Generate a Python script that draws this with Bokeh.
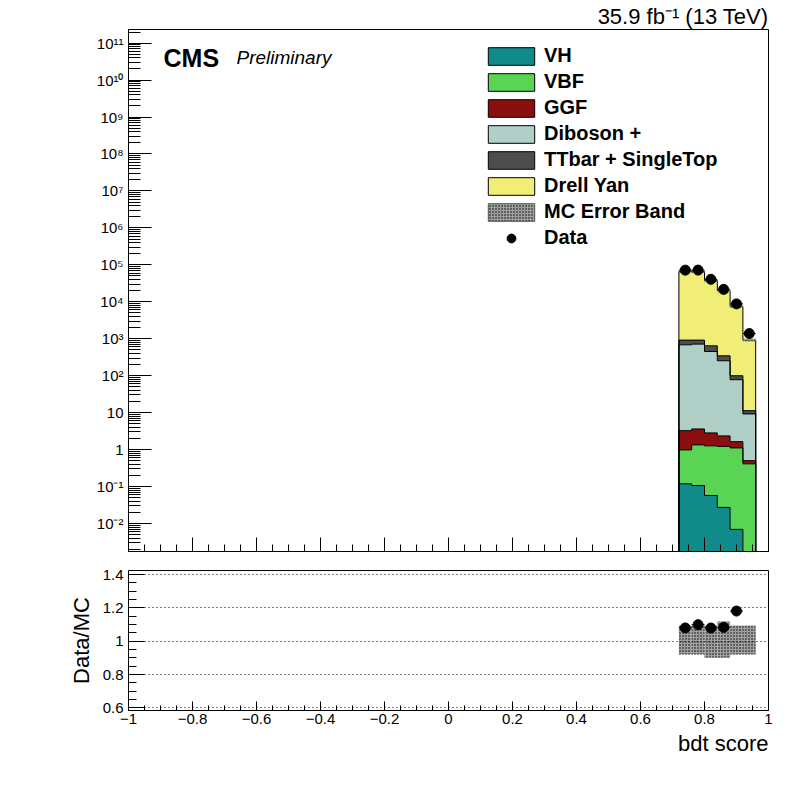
import numpy as np
from bokeh.plotting import figure
from bokeh.layouts import column
from bokeh.models import (Range1d, FixedTicker, CustomJSTickFormatter, Label,
                          Legend, LegendItem, Title)
from bokeh.embed import file_html
from bokeh.resources import INLINE

# ---------------- data ----------------
bin_edges = [0.72, 0.76, 0.80, 0.84, 0.88, 0.92, 0.96]
vh = [0.118, 0.106, 0.057, 0.027, 0.0068, 0.0]
vbf = [0.86, 1.23, 1.20, 1.19, 1.10, 0.41]
ggf = [2.27, 2.27, 1.56, 1.12, 0.53, 0.09]
diboson = [681, 710, 448, 251, 76, 8.7]
ttbar = [232, 202, 192, 92, 22, 2.1]
drell_yan = [65600, 64600, 36900, 19650, 7320, 908]
data = [71800, 72000, 40500, 21650, 8760, 1380]
mc_err_down = [0.08, 0.08, 0.10, 0.10, 0.08, 0.08]
mc_err_up = [0.094, 0.094, 0.094, 0.118, 0.094, 0.094]

layer_names = ["VH", "VBF", "GGF", "Diboson +", "TTbar + SingleTop", "Drell Yan"]
layer_colors = ["#118a8a", "#59d454", "#8a1010", "#b0cfc6", "#4d4d4d", "#f0ee77"]
layer_values = [vh, vbf, ggf, diboson, ttbar, drell_yan]

x_ticks = [-1.0, -0.8, -0.6, -0.4, -0.2, 0.0, 0.2, 0.4, 0.6, 0.8, 1.0]
ratio_ticks = [0.6, 0.8, 1.0, 1.2, 1.4]

FONT = "Liberation Sans"
floor = 1e-4
BAND_FILL = "#a0a0a0"

left = np.array(bin_edges[:-1])
right = np.array(bin_edges[1:])
centers = 0.5 * (left + right)
n = len(left)


def step_polygon(bot, top):
    xs, ys = [], []
    for i in range(n):
        xs += [bin_edges[i], bin_edges[i + 1]]
        ys += [top[i], top[i]]
    for i in reversed(range(n)):
        xs += [bin_edges[i + 1], bin_edges[i]]
        ys += [bot[i], bot[i]]
    return xs, ys


# ---------------- main panel ----------------
p1 = figure(width=792, height=562, y_axis_type="log",
            x_range=Range1d(-1, 1), y_range=Range1d(10 ** -2.76, 10 ** 11.37),
            output_backend="svg", toolbar_location=None,
            min_border_left=128, min_border_right=24, min_border_top=28,
            min_border_bottom=11)
p1.outline_line_color = "black"
p1.outline_line_width = 1
p1.xgrid.visible = False
p1.ygrid.visible = False
p1.background_fill_color = "white"
p1.border_fill_color = "white"

p1.add_layout(Title(text="35.9 fb\u207b\u00b9 (13 TeV)", align="right",
                    text_font=FONT, text_font_size="22px",
                    text_font_style="normal", text_color="black",
                    standoff=2, offset=0), "above")

bottom = np.full(n, floor)
tops = []
for name, col, vals in zip(layer_names, layer_colors, layer_values):
    top = bottom + np.array(vals, dtype=float)
    xs, ys = step_polygon(bottom, top)
    p1.patch(xs, ys, fill_color=col, line_color=None)
    tops.append(top)
    bottom = top

# outlines of each stacked histogram
for top in tops:
    xs = [bin_edges[0]]
    ys = [floor]
    for i in range(n):
        xs += [bin_edges[i], bin_edges[i + 1]]
        ys += [top[i], top[i]]
    xs.append(bin_edges[-1])
    ys.append(floor)
    p1.line(xs, ys, line_color="black", line_width=1)

total = tops[-1]
p1.quad(left=left, right=right,
        bottom=total * (1 - np.array(mc_err_down)),
        top=total * (1 + np.array(mc_err_up)),
        fill_color=BAND_FILL, fill_alpha=0.6, line_color=None,
        hatch_pattern="dot", hatch_scale=3, hatch_weight=1.5,
        hatch_color="black")

p1.segment(x0=left, x1=right, y0=data, y1=data, line_color="black", line_width=1)
p1.scatter(x=centers, y=data, size=10, marker="circle", color="black")

# axes (main panel x axis: ticks only, no labels)
p1.xaxis.ticker = FixedTicker(ticks=x_ticks,
                              minor_ticks=[round(-1 + 0.05 * i, 3) for i in range(41)])
p1.xaxis.formatter = CustomJSTickFormatter(code='return "";')
p1.xaxis.major_label_text_font_size = "0px"
p1.xaxis.major_label_standoff = 0
p1.xaxis.major_tick_out = 0
p1.xaxis.minor_tick_out = 0
p1.xaxis.major_tick_in = 14
p1.xaxis.minor_tick_in = 7
p1.xaxis.axis_line_color = "black"

p1.yaxis.ticker = FixedTicker(
    ticks=[10.0 ** k for k in range(-2, 12)],
    minor_ticks=[m * 10.0 ** k for k in range(-3, 12) for m in range(2, 10)])
p1.yaxis.formatter = CustomJSTickFormatter(code="""
const e = Math.round(Math.log10(tick));
if (e === 0) return "1";
if (e === 1) return "10";
const sup = {"0":"\u2070","1":"\u00b9","2":"\u00b2","3":"\u00b3","4":"\u2074",
             "5":"\u2075","6":"\u2076","7":"\u2077","8":"\u2078","9":"\u2079","-":"\u207b"};
return "10" + String(e).split("").map(c => sup[c]).join("");
""")
p1.yaxis.major_tick_out = 0
p1.yaxis.minor_tick_out = 0
p1.yaxis.major_tick_in = 23
p1.yaxis.minor_tick_in = 12
p1.yaxis.major_label_standoff = 5
p1.yaxis.major_label_text_font = FONT
p1.yaxis.major_label_text_font_size = "15px"
p1.yaxis.major_label_text_color = "black"
p1.yaxis.axis_line_color = "black"

# legend (dummy renderers placed outside the visible range)
items = []
for name, col in zip(layer_names, layer_colors):
    r = p1.quad(left=[-5], right=[-4.9], bottom=[1], top=[2], fill_color=col,
                line_color="black", line_width=1)
    items.append(LegendItem(label=name, renderers=[r]))
r_err = p1.quad(left=[-5], right=[-4.9], bottom=[1], top=[2], fill_color=BAND_FILL,
                line_color="#555555", line_width=1,
                hatch_pattern="dot", hatch_scale=3, hatch_weight=1.5, hatch_color="black")
items.append(LegendItem(label="MC Error Band", renderers=[r_err]))
r_dat = p1.scatter(x=[-5], y=[1], size=10, marker="circle", color="black")
items.append(LegendItem(label="Data", renderers=[r_dat]))

legend = Legend(items=items, location=(354, 302), orientation="vertical",
                label_text_font=FONT, label_text_font_style="bold",
                label_text_font_size="20px", label_text_color="black",
                glyph_width=58, glyph_height=22,
                label_height=18, spacing=3, label_standoff=4, padding=0, margin=0,
                border_line_alpha=0, background_fill_alpha=0)
p1.add_layout(legend)

p1.add_layout(Label(x=35, y=494, x_units="screen", y_units="screen",
                    text="CMS", text_align="left", text_baseline="alphabetic",
                    text_font=FONT, text_font_style="bold",
                    text_font_size="25px", text_color="black"))
p1.add_layout(Label(x=108, y=494, x_units="screen", y_units="screen",
                    text="Preliminary", text_align="left", text_baseline="alphabetic",
                    text_font=FONT, text_font_style="italic",
                    text_font_size="19px", text_color="black"))

# ---------------- ratio panel ----------------
p2 = figure(width=792, height=218, x_range=p1.x_range,
            y_range=Range1d(0.584, 1.424),
            output_backend="svg", toolbar_location=None,
            min_border_left=128, min_border_right=24, min_border_top=8,
            min_border_bottom=70)
p2.outline_line_color = "black"
p2.outline_line_width = 1
p2.xgrid.visible = False
p2.background_fill_color = "white"
p2.border_fill_color = "white"

band = p2.quad(left=left, right=right,
               bottom=1 - np.array(mc_err_down), top=1 + np.array(mc_err_up),
               fill_color=BAND_FILL, line_color=None,
               hatch_pattern="dot", hatch_scale=3, hatch_weight=1.5,
               hatch_color="black")
band.level = "image"

ratio = np.array(data) / total
p2.segment(x0=left, x1=right, y0=ratio, y1=ratio, line_color="black", line_width=1)
p2.scatter(x=centers, y=ratio, size=10, marker="circle", color="black")

fmt = CustomJSTickFormatter(code="""
let v = Math.round(tick * 10) / 10;
if (Math.abs(v) < 1e-9) return "0";
return v.toString().replace("-", "\u2212");
""")

p2.xaxis.ticker = FixedTicker(ticks=x_ticks,
                              minor_ticks=[round(-1 + 0.05 * i, 3) for i in range(41)])
p2.xaxis.formatter = fmt
p2.xaxis.major_tick_out = 0
p2.xaxis.minor_tick_out = 0
p2.xaxis.major_tick_in = 9
p2.xaxis.minor_tick_in = 5
p2.xaxis.major_label_standoff = 3
p2.xaxis.major_label_text_font = FONT
p2.xaxis.major_label_text_font_size = "15px"
p2.xaxis.major_label_text_color = "black"
p2.xaxis.axis_line_color = "black"

p2.yaxis.ticker = FixedTicker(ticks=ratio_ticks,
                              minor_ticks=[round(0.6 + 0.05 * i, 3) for i in range(17)])
p2.yaxis.formatter = fmt
p2.yaxis.major_tick_out = 0
p2.yaxis.minor_tick_out = 0
p2.yaxis.major_tick_in = 16
p2.yaxis.minor_tick_in = 8
p2.yaxis.major_label_standoff = 5
p2.yaxis.major_label_text_font = FONT
p2.yaxis.major_label_text_font_size = "15px"
p2.yaxis.major_label_text_color = "black"
p2.yaxis.axis_line_color = "black"
p2.yaxis.axis_label = "Data/MC"
p2.yaxis.axis_label_text_font = FONT
p2.yaxis.axis_label_text_font_style = "normal"
p2.yaxis.axis_label_text_font_size = "22px"
p2.yaxis.axis_label_standoff = 6
p2.yaxis.axis_label_text_color = "black"

p2.ygrid.grid_line_color = "black"
p2.ygrid.grid_line_dash = "1 3"
p2.ygrid.grid_line_width = 1

p2.add_layout(Title(text="bdt score", align="right", text_font=FONT,
                    text_font_size="22px", text_font_style="normal",
                    text_color="black", standoff=4), "below")

layout = column(p1, p2, spacing=0)
open("out.html", "w").write(file_html(layout, INLINE, "bdt score"))
